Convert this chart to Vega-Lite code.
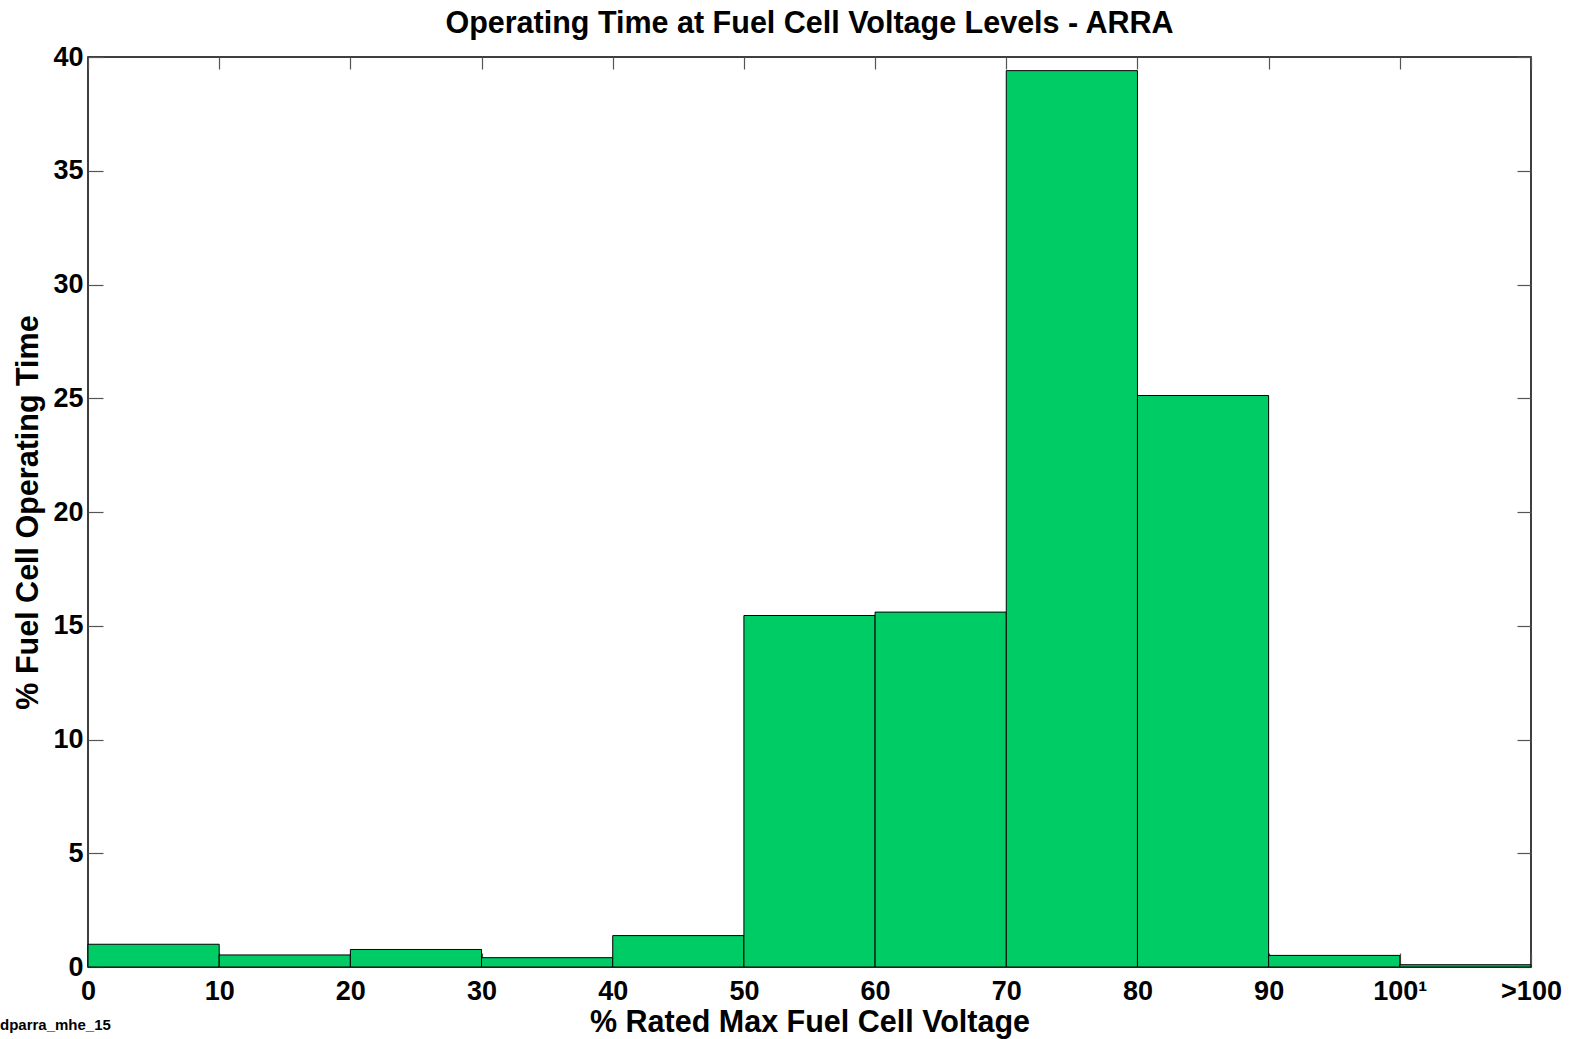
{
  "$schema": "https://vega.github.io/schema/vega-lite/v6.json",
  "width": 1443,
  "height": 910,
  "autosize": {"type": "none"},
  "padding": {"left": 88, "top": 57, "right": 43, "bottom": 72},
  "background": "white",
  "title": {
    "text": "Operating Time at Fuel Cell Voltage Levels - ARRA",
    "font": "Liberation Sans",
    "fontSize": 30.5,
    "fontWeight": "bold",
    "color": "black",
    "anchor": "middle",
    "offset": 4
  },
  "config": {
    "view": {"stroke": "black", "strokeWidth": 1.5},
    "axis": {
      "labelFont": "Liberation Sans",
      "labelFontSize": 27,
      "labelFontWeight": "bold",
      "labelColor": "black",
      "titleFont": "Liberation Sans",
      "titleFontSize": 30.5,
      "titleFontWeight": "bold",
      "titleColor": "black",
      "grid": false,
      "domain": false,
      "tickColor": "#555555",
      "tickWidth": 1.2
    }
  },
  "data": {
    "values": [
      {"lo": 0, "hi": 10, "pct": 1.0},
      {"lo": 10, "hi": 20, "pct": 0.53},
      {"lo": 20, "hi": 30, "pct": 0.77},
      {"lo": 30, "hi": 40, "pct": 0.41},
      {"lo": 40, "hi": 50, "pct": 1.38},
      {"lo": 50, "hi": 60, "pct": 15.45},
      {"lo": 60, "hi": 70, "pct": 15.6},
      {"lo": 70, "hi": 80, "pct": 39.4},
      {"lo": 80, "hi": 90, "pct": 25.12},
      {"lo": 90, "hi": 100, "pct": 0.51},
      {"lo": 100, "hi": 110, "pct": 0.1}
    ]
  },
  "resolve": {"axis": {"x": "independent", "y": "independent"}},
  "layer": [
    {
      "mark": {"type": "point", "opacity": 0},
      "encoding": {
        "x": {
          "field": "lo", "type": "quantitative",
          "scale": {"domain": [0, 110], "nice": false, "zero": false},
          "axis": {
            "orient": "top",
            "values": [0, 10, 20, 30, 40, 50, 60, 70, 80, 90, 100, 110],
            "labels": false,
            "title": null,
            "tickSize": -12
          }
        },
        "y": {
          "field": "pct", "type": "quantitative",
          "scale": {"domain": [0, 40], "nice": false},
          "axis": {
            "orient": "right",
            "values": [0, 5, 10, 15, 20, 25, 30, 35, 40],
            "labels": false,
            "title": null,
            "tickSize": -14
          }
        }
      }
    },
    {
      "mark": {"type": "bar", "fill": "#00CC66", "stroke": "black", "strokeWidth": 1},
      "encoding": {
        "x": {
          "field": "lo", "type": "quantitative",
          "axis": {
            "orient": "bottom",
            "values": [0, 10, 20, 30, 40, 50, 60, 70, 80, 90, 100, 110],
            "labelExpr": "datum.value == 100 ? '100¹' : datum.value == 110 ? '>100' : datum.label",
            "title": "% Rated Max Fuel Cell Voltage",
            "tickSize": -14,
            "labelPadding": 25,
            "labelFlush": false,
            "labelOverlap": false,
            "titlePadding": 3
          }
        },
        "x2": {"field": "hi"},
        "y": {
          "field": "pct", "type": "quantitative",
          "axis": {
            "orient": "left",
            "values": [0, 5, 10, 15, 20, 25, 30, 35, 40],
            "title": "% Fuel Cell Operating Time",
            "tickSize": -15,
            "labelPadding": 20,
            "labelFlush": false,
            "labelOverlap": false,
            "titlePadding": 9
          }
        },
        "y2": {"datum": 0}
      }
    },
    {
      "data": {"values": [{"t": "dparra_mhe_15"}]},
      "mark": {"type": "text", "font": "Liberation Sans", "fontSize": 15, "fontWeight": "bold", "color": "black", "align": "left", "baseline": "middle", "dx": -88, "dy": 58},
      "encoding": {
        "x": {"datum": 0, "type": "quantitative", "axis": null},
        "y": {"datum": 0, "type": "quantitative", "axis": null},
        "text": {"field": "t"}
      }
    }
  ]
}
